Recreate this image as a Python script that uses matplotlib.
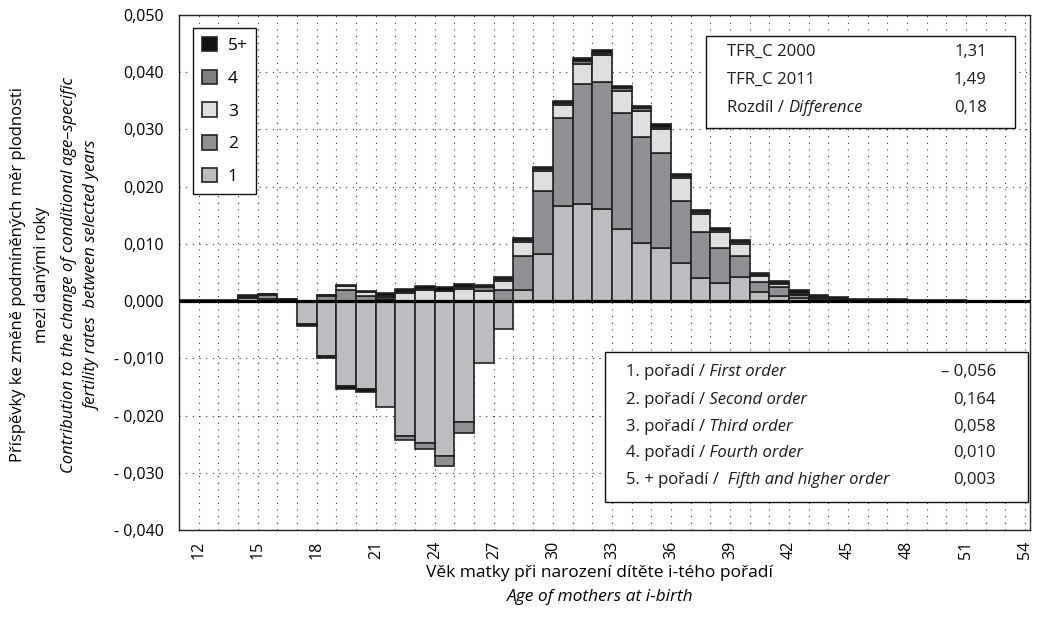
import numpy as np
import matplotlib.pyplot as plt

plt.rcParams['font.family'] = ['Open Sans', 'DejaVu Sans']

# bar for age a covers [a, a+1]
ages = list(range(11, 54))
first = [0.0001, 0.0001, -0.0001, 0.0005, 0.0004, -0.0002, -0.0040, -0.0096, -0.0148, -0.0153,
         -0.0185, -0.0235, -0.0248, -0.0270, -0.0212, -0.0108, -0.0048, 0.0020, 0.0082, 0.0167,
         0.0170, 0.0161, 0.0126, 0.0102, 0.0092, 0.0066, 0.0041, 0.0032, 0.0043, 0.0016,
         0.0009, 0.0005, 0.0002, 0.0001, -0.0002, 0.0, 0.0, 0.0, 0.0, 0.0,
         0.0, 0.0, 0.0]
second = [0.0, 0.0, 0.0001, 0.0003, 0.0007, 0.0003, 0.0, 0.0009, 0.0019, 0.0009,
          0.0004, -0.0008, -0.0010, -0.0019, -0.0018, 0.0, 0.0019, 0.0059, 0.0111, 0.0153,
          0.0210, 0.0222, 0.0202, 0.0185, 0.0166, 0.0109, 0.0079, 0.0060, 0.0036, 0.0017,
          0.0015, 0.0006, 0.0003, 0.0001, 0.0, 0.0, 0.0, 0.0, 0.0, 0.0,
          0.0, 0.0, 0.0]
third = [0.0, 0.0, 0.0, 0.0001, 0.0001, 0.0, 0.0, 0.0002, 0.0007, 0.0007,
         0.0004, 0.0015, 0.0020, 0.0017, 0.0022, 0.0018, 0.0017, 0.0025, 0.0035, 0.0022,
         0.0035, 0.0047, 0.0039, 0.0046, 0.0042, 0.0040, 0.0032, 0.0029, 0.0021, 0.0011,
         0.0006, 0.0002, 0.0001, 0.0001, 0.0, 0.0, 0.0, 0.0, 0.0, 0.0,
         0.0, 0.0, 0.0]
fourth = [0.0, 0.0, 0.0, 0.0, 0.0, 0.0, 0.0, 0.0, 0.0003, 0.0002,
          0.0001, 0.0001, 0.0001, 0.0001, 0.0003, 0.0007, 0.0002, 0.0002, 0.0003, 0.0004,
          0.0005, 0.0004, 0.0005, 0.0004, 0.0005, 0.0004, 0.0003, 0.0003, 0.0003, 0.0002,
          0.0002, 0.0002, 0.0002, 0.0001, 0.0, 0.0, 0.0, 0.0, 0.0, 0.0,
          0.0, 0.0, 0.0]
fifth = [0.0001, 0.0001, 0.0001, 0.0001, 0.0001, 0.0001, -0.0004, -0.0004, -0.0005, -0.0005,
         0.0006, 0.0005, 0.0006, 0.0006, 0.0005, 0.0004, 0.0004, 0.0004, 0.0004, 0.0004,
         0.0004, 0.0004, 0.0004, 0.0004, 0.0004, 0.0004, 0.0004, 0.0004, 0.0004, 0.0004,
         0.0004, 0.0004, 0.0003, 0.0004, 0.0004, 0.0003, 0.0003, 0.0002, 0.0002, 0.0002,
         0.0001, 0.0001, 0.0001]

series = [first, second, third, fourth, fifth]
labels = ['1', '2', '3', '4', '5+']
colors = ['#bcbdc1', '#8f9094', '#dedfe1', '#7e7f83', '#111111']

tfr_rows = [('TFR_C 2000', '', '1,31'), ('TFR_C 2011', '', '1,49'),
            ('Rozdíl / ', 'Difference', '0,18')]
order_rows = [('1. pořadí /', ' First order', '– 0,056'),
              ('2. pořadí /', ' Second order', '0,164'),
              ('3. pořadí /', ' Third order', '0,058'),
              ('4. pořadí /', ' Fourth order', '0,010'),
              ('5. + pořadí /', '  Fifth and higher order', '0,003')]

fig = plt.figure(figsize=(10.38, 6.19), dpi=100)
ax = fig.add_axes([179/1038, 1-530/619, 851/1038, 515/619])

pos = np.zeros(len(ages))
neg = np.zeros(len(ages))
for vals, col, lab in zip(series, colors, labels):
    v = np.array(vals)
    bot = np.where(v >= 0, pos, neg)
    ax.bar(ages, v, width=1, bottom=bot, align='edge', color=col,
           edgecolor='#222222', linewidth=1.2, label=lab, zorder=2)
    pos += np.clip(v, 0, None)
    neg += np.clip(v, None, 0)

ax.axhline(0, color='k', lw=2.3, zorder=3)

ax.set_xlim(11, 54.25)
ax.set_ylim(-0.04, 0.05)
ax.set_xticks(range(12, 55, 3))
ax.set_xticks(range(12, 55), minor=True)
ax.set_yticks(np.arange(-0.04, 0.0501, 0.01))


def fmt(v):
    s = f'{abs(v):.3f}'.replace('.', ',')
    return '- ' + s if v < -1e-9 else s


ax.set_yticklabels([fmt(v) for v in ax.get_yticks()])
ax.tick_params(axis='x', which='both', length=0, pad=8, labelsize=11.5, labelrotation=90)
ax.tick_params(axis='y', length=0, pad=11, labelsize=11.5)
ax.grid(True, axis='x', which='both', color='#333333', linestyle=(0, (1, 5)), linewidth=0.8)
ax.grid(True, axis='y', which='major', color='#333333', linestyle=(0, (1, 5)), linewidth=0.8)
ax.set_axisbelow(True)
for s in ax.spines.values():
    s.set_color('#222222')
    s.set_linewidth(1.0)

h, l = ax.get_legend_handles_labels()
leg = ax.legend(h[::-1], l[::-1], loc='upper left', bbox_to_anchor=(14/851, 502/515),
                borderaxespad=0, fontsize=12.5, labelspacing=0.9, handlelength=0.9,
                handleheight=0.9, handletextpad=0.6, borderpad=0.5, fancybox=False,
                framealpha=1, edgecolor='#111111')
leg.get_frame().set_linewidth(1.0)
leg.set_zorder(5)


def box(x0, x1, y0, y1):
    ax.add_patch(plt.Rectangle((x0, y0), x1 - x0, y1 - y0, transform=ax.transAxes,
                               facecolor='white', edgecolor='#111111', lw=1.0, zorder=5))


def rows(items, xl, xr, ys, size):
    for (reg, ita, val), y in zip(items, ys):
        t = ax.text(xl, y, reg, transform=ax.transAxes, fontsize=size, va='center',
                    ha='left', zorder=6, color='#1a1a1a')
        if ita:
            ax.annotate(ita, xy=(1, 0), xycoords=t, fontsize=size, style='italic',
                        va='bottom', ha='left', zorder=6, color='#1a1a1a')
        ax.text(xr, y, val, transform=ax.transAxes, fontsize=size, va='center',
                ha='right', zorder=6, color='#1a1a1a')


box(0.619, 0.982, 0.781, 0.959)
rows(tfr_rows, 0.644, 0.949, [0.928, 0.874, 0.819], 12)
box(0.5006, 0.9977, 0.0544, 0.3456)
rows(order_rows, 0.525, 0.960, [0.3068, 0.2524, 0.2000, 0.1495, 0.0971], 12)

fig.text(600/1038, 1-573/619, 'Věk matky při narození dítěte i-tého pořadí',
         ha='center', va='center', fontsize=12.5)
fig.text(600/1038, 1-597/619, 'Age of mothers at i-birth', ha='center', va='center',
         fontsize=12.5, style='italic')

ylab = [('Příspěvky ke změně podmíněných měr plodnosti', 'normal', 18),
        ('mezi danými roky', 'normal', 42),
        ('Contribution to the change of conditional age–specific', 'italic', 69),
        ('fertility rates  between selected years', 'italic', 93)]
for txt, st, x in ylab:
    fig.text(x/1038, 1-275/619, txt, rotation=90, ha='center', va='center',
             fontsize=12, style=st)

fig.savefig('out.png', dpi=100)
